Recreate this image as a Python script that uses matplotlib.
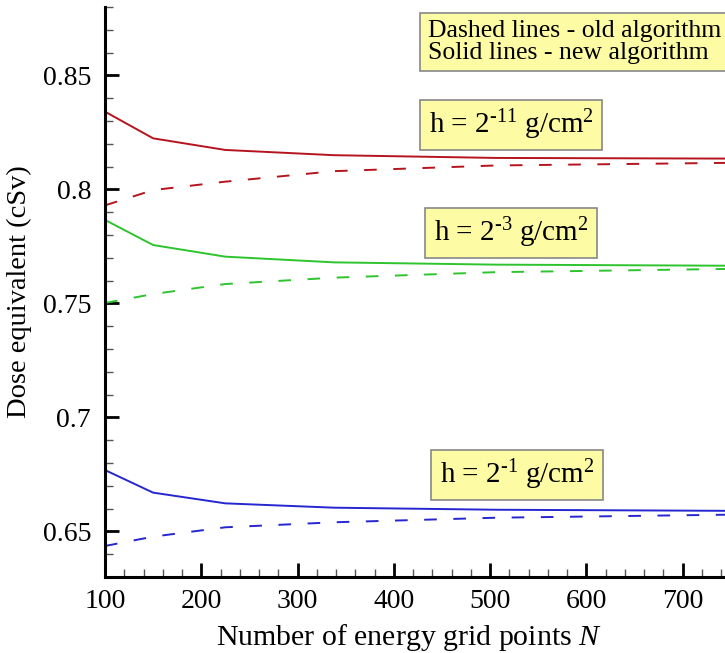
import matplotlib
matplotlib.use("Agg")
import matplotlib.pyplot as plt
from matplotlib.ticker import MultipleLocator, FixedLocator, FixedFormatter

plt.rcParams['font.family'] = ['Liberation Serif', 'DejaVu Serif']
plt.rcParams['mathtext.fontset'] = 'custom'
plt.rcParams['mathtext.rm'] = 'Liberation Serif'
plt.rcParams['mathtext.it'] = 'Liberation Serif:italic'

N = [100, 150, 225, 338, 506, 759]

red_new = [0.8341, 0.8224, 0.8173, 0.8150, 0.8138, 0.8135]
red_old = [0.7930, 0.7997, 0.8034, 0.8080, 0.8105, 0.8117]
green_new = [0.7866, 0.7756, 0.7705, 0.7680, 0.7670, 0.7665]
green_old = [0.7502, 0.7541, 0.7585, 0.7613, 0.7637, 0.7652]
blue_new = [0.6769, 0.6670, 0.6623, 0.6604, 0.6595, 0.6590]
blue_old = [0.6436, 0.6477, 0.6518, 0.6540, 0.6560, 0.6574]

ytick_vals = [0.65, 0.70, 0.75, 0.80, 0.85]
ytick_labels = ["0.65", "0.7", "0.75", "0.8", "0.85"]
xtick_vals = [100, 200, 300, 400, 500, 600, 700]
xtick_labels = ["100", "200", "300", "400", "500", "600", "700"]

RED = "#b5141e"
GREEN = "#2ec42e"
BLUE = "#2626d0"

fig = plt.figure(figsize=(7.25, 6.53), dpi=100)
ax = fig.add_axes([105/725, 1 - 577/653, 674/725, 570/653])

lw = 1.4
dash = (0, (6.5, 8.5))
ax.plot(N, red_new, color=RED, lw=lw)
ax.plot(N, red_old, color=RED, lw=lw, ls=dash)
ax.plot(N, green_new, color=GREEN, lw=lw)
ax.plot(N, green_old, color=GREEN, lw=lw, ls=dash)
ax.plot(N, blue_new, color=BLUE, lw=lw)
ax.plot(N, blue_old, color=BLUE, lw=lw, ls=dash)

ax.set_xlim(100, 800)
ax.set_ylim(0.63, 0.88)

ax.yaxis.set_major_locator(FixedLocator(ytick_vals))
ax.yaxis.set_major_formatter(FixedFormatter(ytick_labels))
ax.yaxis.set_minor_locator(MultipleLocator(0.01))
ax.xaxis.set_major_locator(FixedLocator(xtick_vals))
ax.xaxis.set_major_formatter(FixedFormatter(xtick_labels))
ax.xaxis.set_minor_locator(MultipleLocator(20))

ax.tick_params(which='major', direction='in', length=10, width=2, labelsize=20, color='black')
ax.tick_params(which='minor', direction='in', length=6, width=1, color='#555555')
ax.tick_params(axis='y', which='major', pad=10)
ax.tick_params(axis='x', which='major', pad=9)

for s in ['left', 'bottom']:
    ax.spines[s].set_linewidth(2.2)
ax.spines['top'].set_visible(False)
ax.spines['right'].set_visible(False)

ax.set_xlabel("Number of energy grid points $\\mathit{N}$", fontsize=21.5)
ax.xaxis.set_label_coords((409 - 105) / 674, -(645 - 577) / 570)
ax.xaxis.label.set_va('baseline')
ax.set_ylabel("Dose equivalent (cSv)", fontsize=20.5, labelpad=8)

box = dict(boxstyle='square,pad=0.28', facecolor='#fdfba4', edgecolor='#888888', linewidth=1.2)

def px(xp, yp):
    return (xp / 725, 1 - yp / 653)

H = "\u2010"
fig.text(*px(428, 42), "Dashed lines - old algorithm\nSolid lines - new algorithm",
         fontsize=18.5, ha='left', va='center', linespacing=0.95,
         bbox=dict(boxstyle='square,pad=0.3', facecolor='#fdfba4', edgecolor='#888888', linewidth=1.2))
fig.text(*px(511, 125), "h = 2$^{\\mathregular{" + H + "11}}$ g/cm$^{\\mathregular{2}}$", fontsize=21, ha='center', va='center', bbox=box)
fig.text(*px(511, 233), "h = 2$^{\\mathregular{" + H + "3}}$ g/cm$^{\\mathregular{2}}$", fontsize=21, ha='center', va='center', bbox=box)
fig.text(*px(517, 475), "h = 2$^{\\mathregular{" + H + "1}}$ g/cm$^{\\mathregular{2}}$", fontsize=21, ha='center', va='center', bbox=box)

fig.savefig("out.png", dpi=100)
